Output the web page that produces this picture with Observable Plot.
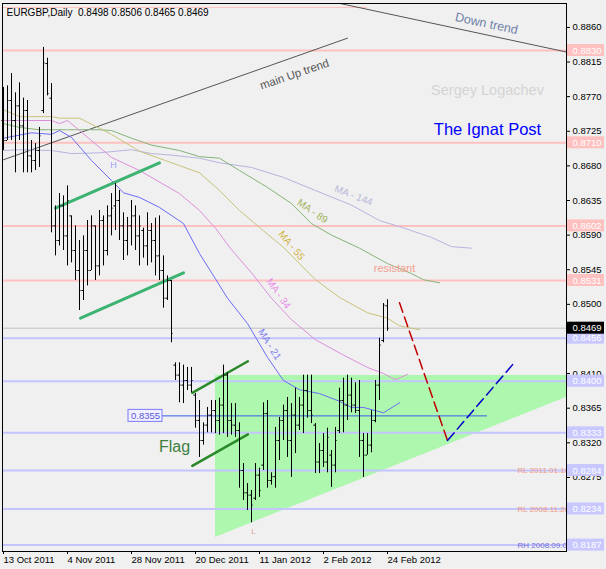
<!DOCTYPE html>
<html><head><meta charset="utf-8">
<script src="https://cdn.jsdelivr.net/npm/d3@7"></script>
<script src="https://cdn.jsdelivr.net/npm/@observablehq/plot@0.6"></script>
<style>
html,body{margin:0;padding:0;background:#f0f0f0;}
#chart svg{display:block;}
</style></head><body><div id="chart"></div>
<script>
const symbolTitle = "EURGBP,Daily  0.8498 0.8506 0.8465 0.8469";
const dateTickIndex = [0,16,32,48,64,80,96];
const dateTickLabels = ["13 Oct 2011","4 Nov 2011","28 Nov 2011","20 Dec 2011","11 Jan 2012","2 Feb 2012","24 Feb 2012"];
const priceTicks = [0.8860,0.8815,0.8770,0.8725,0.8680,0.8635,0.8590,0.8545,0.8500,0.8410,0.8365,0.8320,0.8275];

// daily OHLC in pips (0.0001)
const highPips = [8782,8784,8800,8775,8788,8768,8765,8713,8709,8730,
 8834,8820,8787,8628,8644,8641,8654,8615,8602,8583,
 8589,8609,8615,8602,8622,8615,8628,8644,8657,8648,
 8619,8613,8635,8628,8615,8599,8619,8605,8612,8615,
 8563,8537,8531,8424,8424,8421,8418,8418,8384,8375,
 8346,8366,8375,8375,8378,8421,8411,8371,8371,8346,
 8293,8267,8258,8293,8287,8372,8375,8281,8340,8353,
 8369,8379,8371,8391,8379,8408,8408,8408,8345,8319,
 8332,8339,8310,8340,8391,8404,8408,8404,8398,8401,
 8332,8332,8362,8401,8456,8501,8506];
const lowPips = [8700,8713,8713,8671,8713,8671,8671,8671,8674,8678,
 8748,8771,8593,8563,8576,8570,8550,8554,8531,8492,
 8505,8524,8544,8531,8537,8550,8563,8589,8596,8583,
 8557,8563,8576,8570,8550,8560,8550,8554,8537,8531,
 8495,8505,8450,8401,8372,8371,8388,8385,8339,8301,
 8317,8333,8333,8332,8330,8332,8327,8330,8327,8261,
 8245,8232,8216,8245,8249,8284,8261,8265,8261,8297,
 8323,8301,8275,8306,8336,8332,8352,8345,8280,8280,
 8288,8281,8262,8281,8332,8333,8349,8359,8358,8301,
 8275,8304,8307,8346,8375,8450,8465];
const openPips = [8739,8713,8765,8739,8758,8732,8752,8693,8687,8700,
 8752,8813,8768,8602,8583,8628,8589,8615,8570,8544,
 8518,8570,8544,8602,8550,8609,8570,8615,8628,8635,
 8602,8583,8602,8615,8589,8596,8576,8596,8583,8563,
 8544,8508,8531,8421,8408,8395,8401,8395,8382,8349,
 8323,8343,8356,8362,8349,8369,8408,8349,8343,8336,
 8284,8255,8252,8248,8278,8291,8358,8271,8276,8323,
 8349,8362,8323,8356,8343,8369,8388,8362,8343,8295,
 8310,8295,8304,8291,8336,8375,8369,8382,8369,8362,
 8323,8304,8317,8349,8395,8453,8498];
const closePips = [8713,8765,8739,8758,8732,8752,8693,8687,8700,8719,
 8814,8774,8602,8583,8628,8589,8635,8570,8544,8518,
 8570,8544,8602,8550,8609,8570,8615,8625,8635,8602,
 8583,8602,8615,8589,8602,8576,8596,8583,8563,8544,
 8508,8531,8462,8408,8395,8401,8395,8401,8349,8323,
 8343,8356,8362,8349,8369,8408,8349,8343,8336,8284,
 8255,8252,8239,8278,8258,8358,8271,8276,8323,8349,
 8362,8323,8356,8343,8369,8388,8362,8356,8295,8310,
 8295,8327,8291,8323,8375,8369,8382,8369,8362,8323,
 8304,8317,8349,8395,8447,8499,8469];

// moving averages: [bar index, price]
const ma21 = [[0,0.8716],[7,0.8723],[12,0.8721],[14,0.8726],[17,0.8717],[22,0.8687],[27,0.8661],[30,0.8645],[34,0.8639],[39,0.8626],[45,0.8605],[49,0.8566],[53,0.8533],[56,0.8508],[61,0.8475],[66,0.8431],[70,0.8401],[74,0.8389],[79,0.8384],[84,0.8374],[87,0.8366],[90,0.8366],[95,0.8359],[99,0.8372]];
const ma34 = [[0,0.8739],[4,0.8739],[12,0.8739],[14,0.8735],[16,0.8739],[19,0.8726],[27,0.8691],[34,0.8674],[44,0.8644],[49,0.8622],[53,0.8599],[57,0.8571],[62,0.8541],[67,0.8508],[72,0.8480],[78,0.8454],[85,0.8434],[91,0.8418],[95,0.8410],[98,0.8402],[101,0.8409]];
const ma55 = [[0,0.8753],[4,0.8744],[12,0.8744],[14,0.8742],[19,0.8742],[27,0.8721],[34,0.8699],[49,0.8671],[54,0.8648],[59,0.8622],[64,0.8600],[70,0.8574],[74,0.8553],[78,0.8532],[84,0.8509],[91,0.8489],[96,0.8482],[99,0.8472],[104,0.8467]];
const ma89 = [[0,0.8735],[4,0.8730],[9,0.8727],[16,0.8727],[24,0.8727],[27,0.8726],[32,0.8716],[37,0.8707],[44,0.8700],[49,0.8692],[54,0.8690],[59,0.8674],[66,0.8652],[72,0.8631],[77,0.8605],[82,0.8590],[89,0.8573],[96,0.8553],[102,0.8540],[105,0.8532],[109,0.8528]];
const ma144 = [[0,0.8700],[4,0.8701],[12,0.8700],[17,0.8696],[24,0.8697],[32,0.8701],[37,0.8696],[42,0.8694],[49,0.8690],[54,0.8684],[62,0.8678],[70,0.8665],[78,0.8648],[87,0.8629],[94,0.8609],[99,0.8601],[107,0.8587],[112,0.8575],[117,0.8573]];

const pinkLevels = [0.8830,0.8710,0.8602,0.8531];
const blueLevels = [0.8456,0.8400,0.8333,0.8284,0.8234,0.8187];
const lastClose = 0.8469;
const topLevel = [0.8886];
const flagLevel = [0.8355];
const levelNotes = [["RL 2011.01.10",0.8284],["RL 2008.11.26",0.8234],["RH 2008.09.04",0.8187]];

const upTrend = [[0,0.8688],[86,0.8846]];
const downTrend = [[84.25,0.8891],[140.75,0.8828]];
const channelUpper = [[13,0.8625],[39,0.8684]];
const channelLower = [[19.25,0.8482],[45,0.8541]];
const flagUpper = [[47.2,0.8385],[61.1,0.8426]];
const flagLower = [[47.2,0.8290],[61.1,0.8331]];
const triangleIdx = [53,140.75];
const triangleTop = [0.84075,0.84075];
const triangleBottom = [0.8197,0.8379];
const forecastDown = [[99,0.8502],[111,0.8323]];
const forecastUp = [[111,0.8323],[128,0.8426]];

const bars = highPips.map((h,i)=>({i, high:h/1e4, low:lowPips[i]/1e4, open:openPips[i]/1e4, close:closePips[i]/1e4}));
const tri = triangleIdx.map((x,k)=>({x, top:triangleTop[k], bottom:triangleBottom[k]}));

const font = "'Liberation Sans', Arial, sans-serif";
const P = d=>d[0], Q = d=>d[1];
const lbl = (t, x, y, o) => Plot.text([t], Object.assign({x: ()=>x, y: ()=>y, text: d=>d}, o));
const boxH = 0.00078;

const chart = Plot.plot({
  width: 606, height: 569,
  marginLeft: 2, marginRight: 40, marginTop: 3, marginBottom: 18,
  style: {background: "#f0f0f0", fontFamily: font, fontSize: "9.5px", color: "#000", overflow: "visible"},
  x: {type: "linear", domain: [-0.25, 140.75], axis: null},
  y: {type: "linear", domain: [0.81787, 0.88911], axis: null},
  marks: [
    Plot.areaY(tri, {x: "x", y1: "bottom", y2: "top", fill: "#aef7ae"}),
    Plot.ruleY(topLevel, {x1: ()=>0, x2: ()=>91, stroke: "#ffc0c0"}),
    Plot.ruleY(pinkLevels, {stroke: "#ffc0c0", strokeWidth: 2}),
    Plot.ruleY(blueLevels, {stroke: "#c4c4ff", strokeWidth: 2}),
    Plot.ruleY([lastClose], {stroke: "#c0c0c0"}),
    Plot.line(upTrend, {x: P, y: Q, stroke: "#555", strokeWidth: 1}),
    Plot.line(downTrend, {x: P, y: Q, stroke: "#555", strokeWidth: 1}),
    Plot.line(ma144, {x: P, y: Q, stroke: "#b9b3df", strokeWidth: 1}),
    Plot.line(ma89, {x: P, y: Q, stroke: "#86b478", strokeWidth: 1}),
    Plot.line(ma55, {x: P, y: Q, stroke: "#c9c27c", strokeWidth: 1}),
    Plot.line(ma34, {x: P, y: Q, stroke: "#dd8fdd", strokeWidth: 1}),
    Plot.line(ma21, {x: P, y: Q, stroke: "#6c6cf6", strokeWidth: 1}),
    Plot.line(channelUpper, {x: P, y: Q, stroke: "#3cb371", strokeWidth: 3}),
    Plot.line(channelLower, {x: P, y: Q, stroke: "#3cb371", strokeWidth: 3}),
    Plot.line(flagUpper, {x: P, y: Q, stroke: "#2a8a2a", strokeWidth: 2.5}),
    Plot.line(flagLower, {x: P, y: Q, stroke: "#2a8a2a", strokeWidth: 2.5}),
    Plot.ruleY(flagLevel, {x1: ()=>39.75, x2: ()=>121, stroke: "#3a5ee8"}),
    Plot.rect(flagLevel, {x1: ()=>31.25, x2: ()=>39.75, y1: d=>d-boxH, y2: d=>d+boxH, fill: "#f0f0ff", stroke: "#7a7aff"}),
    Plot.text(flagLevel, {x: ()=>35.5, y: d=>d, text: d=>d.toFixed(4), fill: "#5a5ad8", fontSize: 9.5}),
    Plot.line(forecastDown, {x: P, y: Q, stroke: "#c00000", strokeWidth: 1.5, strokeDasharray: "10,5"}),
    Plot.line(forecastUp, {x: P, y: Q, stroke: "#0000c8", strokeWidth: 1.5, strokeDasharray: "10,5"}),
    Plot.ruleX(bars, {x: "i", y1: "low", y2: "high", stroke: "#000"}),
    Plot.ruleY(bars, {x1: d=>d.i-0.4, x2: d=>d.i, y: "open", stroke: "#000"}),
    Plot.ruleY(bars, {x1: d=>d.i, x2: d=>d.i+0.4, y: "close", stroke: "#000"}),
    // annotations
    Plot.text([symbolTitle], {frameAnchor: "top-left", dx: 4, dy: 5, textAnchor: "start", lineAnchor: "top", fontSize: 10, fill: "#000"}),
    lbl("main Up trend", 72.75, 0.8799, {rotate: -19, fontSize: 11.5, fill: "#555"}),
    lbl("Down trend", 120.75, 0.8865, {rotate: 12, fontSize: 12.5, fill: "#7082a8"}),
    lbl("Sergey Logachev", 121, 0.8778, {fontSize: 14.5, fill: "#d4d4d4"}),
    lbl("The Ignat Post", 121, 0.8727, {fontSize: 16.5, fill: "#0000ff"}),
    lbl("MA - 144", 87.5, 0.86415, {rotate: 21, fontSize: 10, fill: "#b8b8d8"}),
    lbl("MA - 89", 77.25, 0.8621, {rotate: 35, fontSize: 10, fill: "#a4b45c"}),
    lbl("MA - 55", 72, 0.85765, {rotate: 50, fontSize: 10, fill: "#d0b040"}),
    lbl("MA - 34", 68.75, 0.8514, {rotate: 55, fontSize: 10, fill: "#e88ce8"}),
    lbl("MA - 21", 66.5, 0.8448, {rotate: 58, fontSize: 10, fill: "#8080f0"}),
    lbl("resistant", 97.75, 0.8547, {fontSize: 11, fill: "#f4a090"}),
    lbl("Flag", 42.75, 0.8315, {fontSize: 16, fill: "#3f7f3f"}),
    lbl("H", 27.5, 0.8681, {fontSize: 9, fill: "#a0a0ff"}),
    lbl("L", 62.5, 0.8205, {fontSize: 8, fill: "#e0a0a0"}),
    Plot.text(levelNotes, {x: ()=>128.5, y: Q, text: P, textAnchor: "start", fontSize: 8, fill: d=>d[0].startsWith("RH") ? "#7070e0" : "#f09a80"}),
    Plot.frame({stroke: "#000"}),
    Plot.axisY(priceTicks, {anchor: "right", tickSize: 3, tickPadding: 3, tickFormat: d=>d.toFixed(4), fontSize: 9.5}),
    Plot.axisX(dateTickIndex, {anchor: "bottom", tickSize: 3, tickPadding: 2, textAnchor: "start", tickFormat: d=>dateTickLabels[dateTickIndex.indexOf(d)], fontSize: 9.5}),
    Plot.rect(pinkLevels, {x1: ()=>141, x2: ()=>150.25, y1: d=>d-boxH, y2: d=>d+boxH, fill: "#ffc0c0"}),
    Plot.text(pinkLevels, {x: ()=>142.25, y: d=>d, text: d=>d.toFixed(4), textAnchor: "start", fill: "#fff", fontSize: 9.5}),
    Plot.rect(blueLevels, {x1: ()=>141, x2: ()=>150.25, y1: d=>d-boxH, y2: d=>d+boxH, fill: "#c8c8ff"}),
    Plot.text(blueLevels, {x: ()=>142.25, y: d=>d, text: d=>d.toFixed(4), textAnchor: "start", fill: "#fff", fontSize: 9.5}),
    Plot.rect([lastClose], {x1: ()=>141, x2: ()=>150.25, y1: d=>d-boxH, y2: d=>d+boxH, fill: "#000"}),
    Plot.text([lastClose], {x: ()=>142.25, y: d=>d, text: d=>d.toFixed(4), textAnchor: "start", fill: "#fff", fontSize: 9.5})
  ]
});
document.getElementById("chart").append(chart);
</script></body></html>
